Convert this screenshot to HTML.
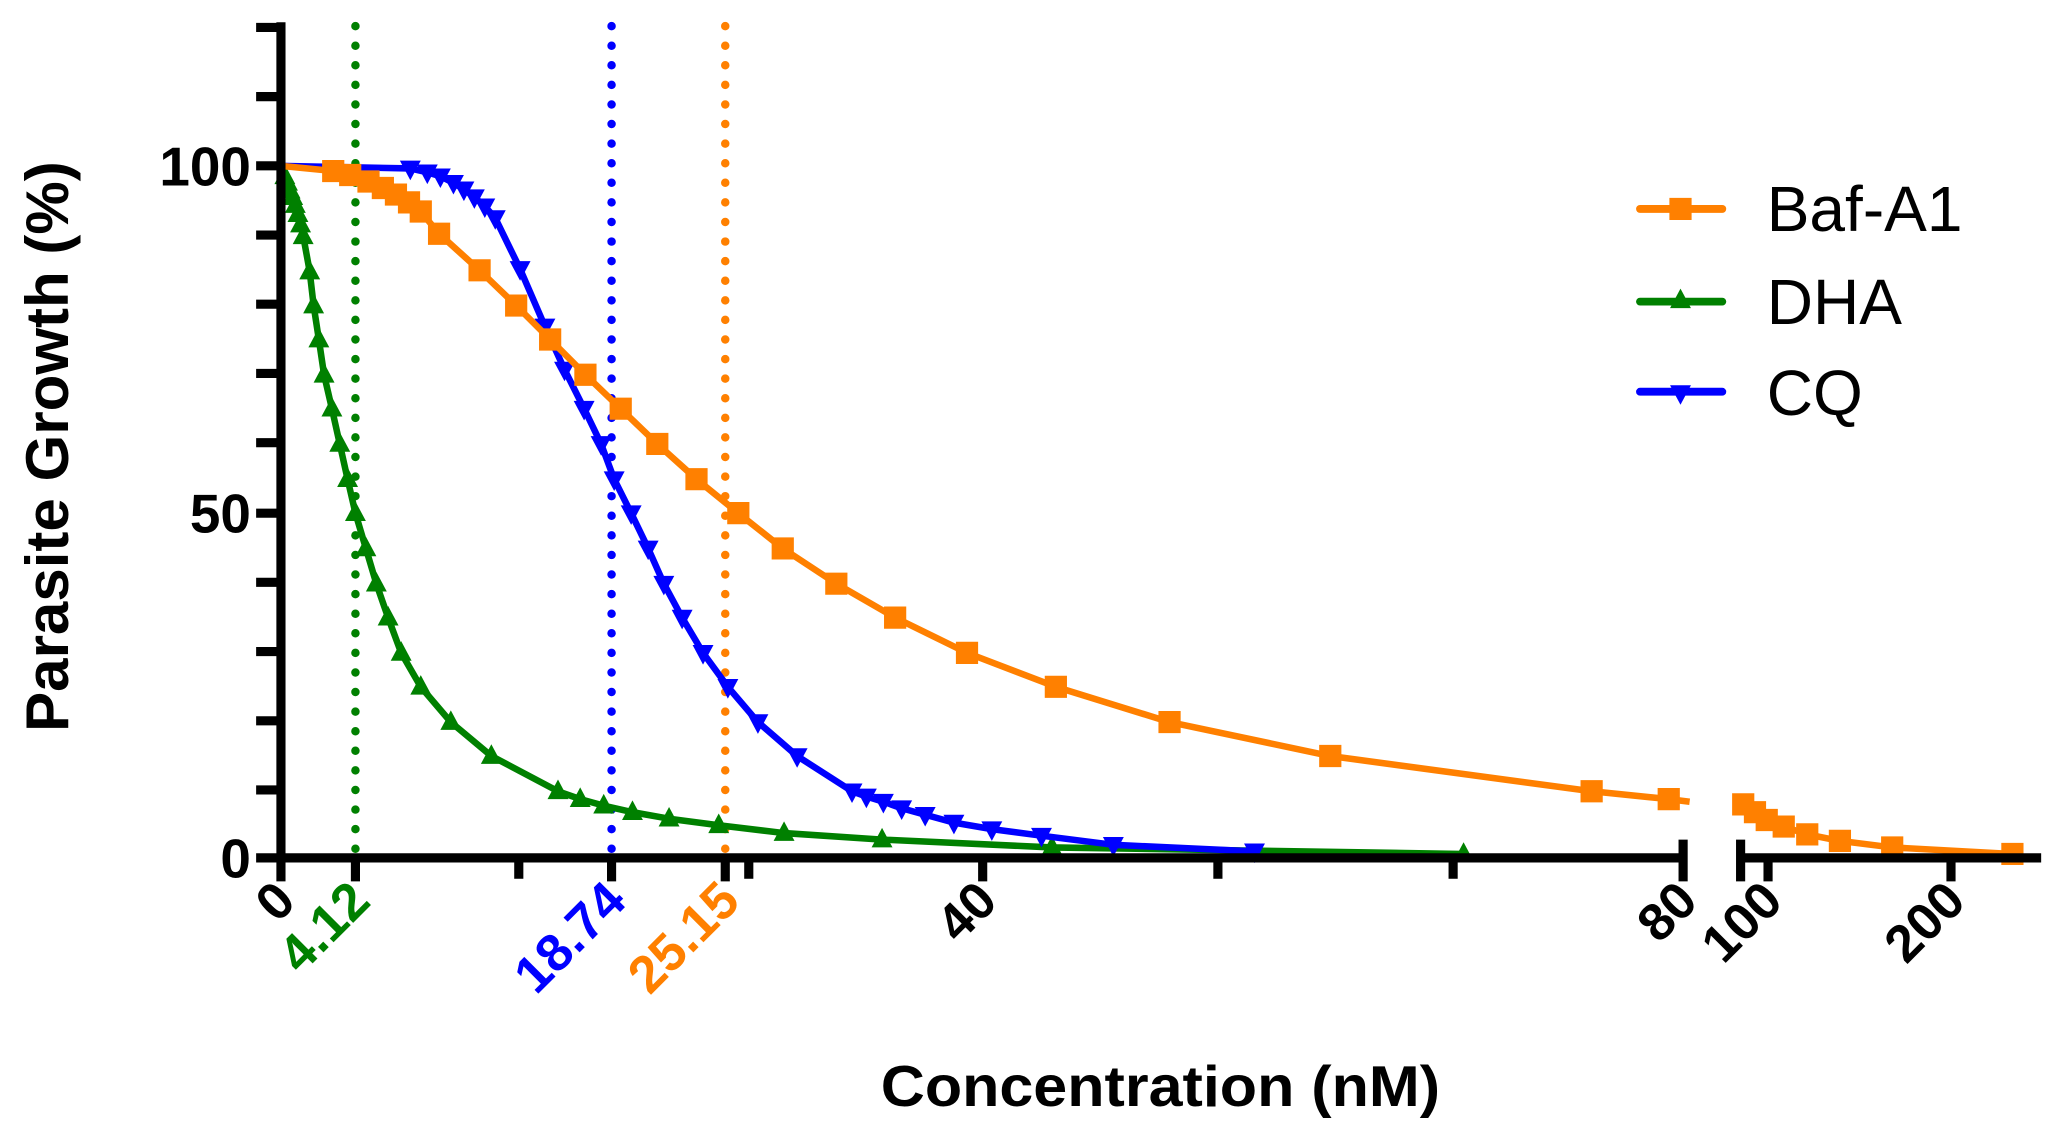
<!DOCTYPE html>
<html><head><meta charset="utf-8"><style>html,body{margin:0;padding:0;background:#fff}svg{display:block}</style></head>
<body>
<svg width="2049" height="1136" viewBox="0 0 1568 870" preserveAspectRatio="none" xmlns="http://www.w3.org/2000/svg" font-family="Liberation Sans, Arial, sans-serif">
<defs>
<path id="sq" d="M-8.5,-8.5h17v17h-17z" fill="#FF8000"/>
<path id="up" d="M0,-9L8,6H-8z" fill="#008000"/>
<path id="dn" d="M0,9L8,-6H-8z" fill="#0000FF"/>
</defs>
<!-- dotted lines -->
<g stroke-width="6.5" stroke-linecap="round" stroke-dasharray="0 15" fill="none">
<line x1="272" y1="20" x2="272" y2="655" stroke="#008000"/>
<line x1="468" y1="20" x2="468" y2="655" stroke="#0000FF"/>
<line x1="555" y1="20" x2="555" y2="655" stroke="#FF8000"/>
</g>
<!-- DHA -->
<polyline fill="none" stroke="#008000" stroke-width="5" stroke-linejoin="round" points="215,127 218,135 221,143 224,151 227,159 231,175 237,208 240,234 244,260 248,287 254,313 260,340 266,367 272,393 280,420 288,447 297,473 307,500 322,526 345,553 376,579 427,606 444,612 462,617 484,622 512,627 550,632 600,638 675,643 805,649 1120,654"/>
<g>
<use href="#up" x="218" y="135"/><use href="#up" x="220" y="140"/><use href="#up" x="222" y="146"/><use href="#up" x="224" y="151"/><use href="#up" x="226" y="157"/><use href="#up" x="228" y="164"/><use href="#up" x="230" y="172"/><use href="#up" x="232" y="181"/><use href="#up" x="237" y="208"/><use href="#up" x="240" y="234"/><use href="#up" x="244" y="260"/><use href="#up" x="248" y="287"/><use href="#up" x="254" y="313"/><use href="#up" x="260" y="340"/><use href="#up" x="266" y="367"/><use href="#up" x="272" y="393"/><use href="#up" x="280" y="420"/><use href="#up" x="288" y="447"/><use href="#up" x="297" y="473"/><use href="#up" x="307" y="500"/><use href="#up" x="322" y="526"/><use href="#up" x="345" y="553"/><use href="#up" x="376" y="579"/><use href="#up" x="427" y="606"/><use href="#up" x="444" y="612"/><use href="#up" x="462" y="617"/><use href="#up" x="484" y="622"/><use href="#up" x="512" y="627"/><use href="#up" x="550" y="632"/><use href="#up" x="600" y="638"/><use href="#up" x="675" y="643"/><use href="#up" x="805" y="649"/><use href="#up" x="1120" y="654"/>
</g>
<!-- CQ -->
<polyline fill="none" stroke="#0000FF" stroke-width="5" stroke-linejoin="round" points="215,127 314,129 327,132 337,135 347,140 355,145 363,151 371,158 379,167 398,206 417,250 432,283 447,313 460,340 470,367 483,393 496,420 508,447 522,473 538,500 557,526 580,553 610,579 652,606 663,610 676,614 690,619 708,624 730,630 759,635 797,640 852,647 960,652"/>
<g>
<use href="#dn" x="314" y="129"/><use href="#dn" x="327" y="132"/><use href="#dn" x="337" y="135"/><use href="#dn" x="347" y="140"/><use href="#dn" x="355" y="145"/><use href="#dn" x="363" y="151"/><use href="#dn" x="371" y="158"/><use href="#dn" x="379" y="167"/><use href="#dn" x="398" y="206"/><use href="#dn" x="417" y="250"/><use href="#dn" x="432" y="283"/><use href="#dn" x="447" y="313"/><use href="#dn" x="460" y="340"/><use href="#dn" x="470" y="367"/><use href="#dn" x="483" y="393"/><use href="#dn" x="496" y="420"/><use href="#dn" x="508" y="447"/><use href="#dn" x="522" y="473"/><use href="#dn" x="538" y="500"/><use href="#dn" x="557" y="526"/><use href="#dn" x="580" y="553"/><use href="#dn" x="610" y="579"/><use href="#dn" x="652" y="606"/><use href="#dn" x="663" y="610"/><use href="#dn" x="676" y="614"/><use href="#dn" x="690" y="619"/><use href="#dn" x="708" y="624"/><use href="#dn" x="730" y="630"/><use href="#dn" x="759" y="635"/><use href="#dn" x="797" y="640"/><use href="#dn" x="852" y="647"/><use href="#dn" x="960" y="652"/>
</g>
<!-- Baf-A1 -->
<polyline fill="none" stroke="#FF8000" stroke-width="5" stroke-linejoin="round" points="215,127 255,131 268,134 282,139 293,144 303,149 313,155 322,162 336,179 367,207 395,234 421,260 448,287 475,313 503,340 533,367 565,393 599,420 640,447 685,473 740,500 808,526 895,553 1018,579 1218,606 1277,612 1293,614"/>
<polyline fill="none" stroke="#FF8000" stroke-width="5" stroke-linejoin="round" points="1330,614 1334,616 1343,622 1352,628 1365,633 1383,639 1408,644 1448,649 1540,654"/>
<g>
<use href="#sq" x="255" y="131"/><use href="#sq" x="268" y="134"/><use href="#sq" x="282" y="139"/><use href="#sq" x="293" y="144"/><use href="#sq" x="303" y="149"/><use href="#sq" x="313" y="155"/><use href="#sq" x="322" y="162"/><use href="#sq" x="336" y="179"/><use href="#sq" x="367" y="207"/><use href="#sq" x="395" y="234"/><use href="#sq" x="421" y="260"/><use href="#sq" x="448" y="287"/><use href="#sq" x="475" y="313"/><use href="#sq" x="503" y="340"/><use href="#sq" x="533" y="367"/><use href="#sq" x="565" y="393"/><use href="#sq" x="599" y="420"/><use href="#sq" x="640" y="447"/><use href="#sq" x="685" y="473"/><use href="#sq" x="740" y="500"/><use href="#sq" x="808" y="526"/><use href="#sq" x="895" y="553"/><use href="#sq" x="1018" y="579"/><use href="#sq" x="1218" y="606"/><use href="#sq" x="1277" y="612"/>
<use href="#sq" x="1334" y="616"/><use href="#sq" x="1343" y="622"/><use href="#sq" x="1352" y="628"/><use href="#sq" x="1365" y="633"/><use href="#sq" x="1383" y="639"/><use href="#sq" x="1408" y="644"/><use href="#sq" x="1448" y="649"/><use href="#sq" x="1540" y="654"/>
</g>
<!-- axes -->
<g stroke="#000" stroke-width="7" fill="none">
<line x1="215" y1="17" x2="215" y2="675"/>
<line x1="212" y1="657" x2="1290" y2="657"/>
<line x1="1330" y1="657" x2="1562" y2="657"/>
<line x1="196" y1="21" x2="215" y2="21"/><line x1="196" y1="74" x2="215" y2="74"/><line x1="196" y1="127" x2="215" y2="127"/><line x1="196" y1="180" x2="215" y2="180"/><line x1="196" y1="233" x2="215" y2="233"/><line x1="196" y1="286" x2="215" y2="286"/><line x1="196" y1="339" x2="215" y2="339"/><line x1="196" y1="393" x2="215" y2="393"/><line x1="196" y1="446" x2="215" y2="446"/><line x1="196" y1="499" x2="215" y2="499"/><line x1="196" y1="552" x2="215" y2="552"/><line x1="196" y1="605" x2="215" y2="605"/><line x1="196" y1="657" x2="215" y2="657"/>
<line x1="272" y1="657" x2="272" y2="675"/><line x1="397" y1="657" x2="397" y2="673"/><line x1="468" y1="657" x2="468" y2="675"/><line x1="555" y1="657" x2="555" y2="675"/><line x1="573" y1="657" x2="573" y2="673"/><line x1="752" y1="657" x2="752" y2="675"/><line x1="932" y1="657" x2="932" y2="673"/><line x1="1112" y1="657" x2="1112" y2="673"/>
<line x1="1288" y1="643" x2="1288" y2="675"/><line x1="1332" y1="643" x2="1332" y2="675"/><line x1="1353" y1="657" x2="1353" y2="675"/><line x1="1493" y1="657" x2="1493" y2="675"/>
</g>
<!-- y labels -->
<g font-weight="bold" font-size="42" text-anchor="end" fill="#000">
<text x="192" y="142">100</text><text x="192" y="408">50</text><text x="192" y="672">0</text>
</g>
<text transform="translate(52,342) rotate(-90)" text-anchor="middle" font-weight="bold" font-size="46">Parasite Growth (%)</text>
<!-- x labels -->
<g font-weight="bold" font-size="40" text-anchor="end">
<text transform="translate(228,692) rotate(-45)">0</text>
<text transform="translate(285,692) rotate(-45)" fill="#008000">4.12</text>
<text transform="translate(481,692) rotate(-45)" fill="#0000FF">18.74</text>
<text transform="translate(568,692) rotate(-45)" fill="#FF8000">25.15</text>
<text transform="translate(765,692) rotate(-45)">40</text>
<text transform="translate(1301,692) rotate(-45)">80</text>
<text transform="translate(1366,692) rotate(-45)">100</text>
<text transform="translate(1506,692) rotate(-45)">200</text>
</g>
<text x="888" y="847" text-anchor="middle" font-weight="bold" font-size="44" textLength="428" lengthAdjust="spacingAndGlyphs">Concentration (nM)</text>
<!-- legend -->
<g stroke-width="6" stroke-linecap="round">
<line x1="1255" y1="160" x2="1318" y2="160" stroke="#FF8000"/>
<line x1="1255" y1="231" x2="1318" y2="231" stroke="#008000"/>
<line x1="1255" y1="300" x2="1318" y2="300" stroke="#0000FF"/>
</g>
<use href="#sq" x="1286" y="160"/><use href="#up" x="1286" y="230"/><use href="#dn" x="1286" y="301"/>
<g font-size="49" fill="#000">
<text x="1352" y="177">Baf-A1</text><text x="1352" y="248">DHA</text><text x="1352" y="318">CQ</text>
</g>
</svg>
</body></html>
